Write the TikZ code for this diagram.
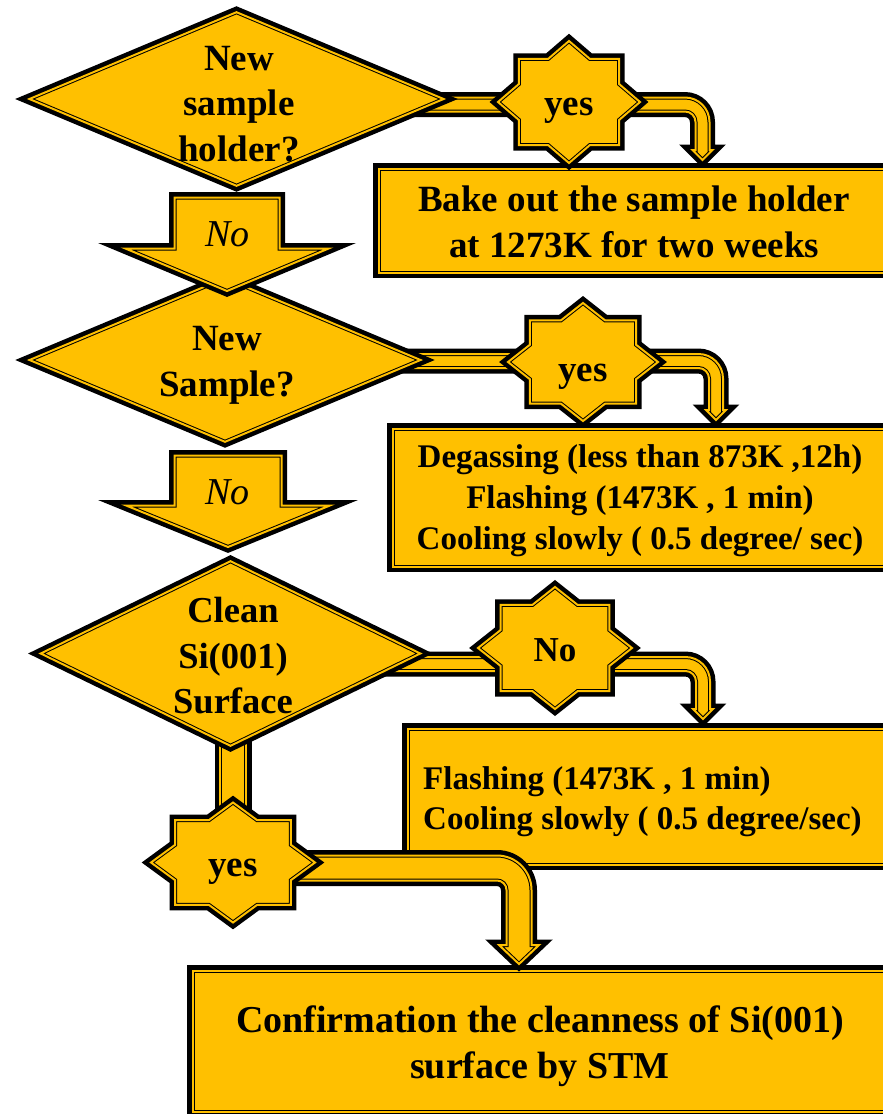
\documentclass[tikz,border=0pt]{standalone}
\usepackage{fontspec}
\setmainfont{Liberation Serif}
\usetikzlibrary{shapes.geometric,calc}
\definecolor{gold}{HTML}{FFC000}
\pgfdeclarelayer{boxes}
\pgfdeclarelayer{bands}
\pgfsetlayers{boxes,bands,main}
\newcommand\fntA{\fontsize{37}{45.5}\selectfont\bfseries}
\newcommand\fntAa{\fontsize{36.5}{45.5}\selectfont\bfseries}
\newcommand\fntB{\fontsize{33}{41}\selectfont\bfseries}
\newcommand\fntC{\fontsize{33}{40}\selectfont\bfseries}
\newcommand\fntD{\fontsize{38}{46}\selectfont\bfseries}
\newcommand\fntE{\fontsize{35}{42}\selectfont\bfseries}
\newcommand\fntI{\fontsize{38}{45}\selectfont\itshape}
\tikzset{
  deco/.style={fill=gold, draw=black, line width=1pt, double=gold,
    double distance=2pt, preaction={draw=black, line width=11pt}},
  box/.style={deco, rectangle, inner sep=0pt},
  dia/.style={deco, diamond, inner sep=0pt},
  txt/.style={inner sep=0pt, align=center},
}
% octagram star: name, x, y, x radius, y radius
\newcommand\octstar[5]{%
  \coordinate (#1) at (#2,#3);
  \draw[deco, shift={(#2,#3)}] ({#4},0)
    \foreach \k in {0,...,6}{ -- ({0.7654*#4*cos(\k*45+22.5)},{0.7654*#5*sin(\k*45+22.5)})
      -- ({#4*cos(\k*45+45)},{#5*sin(\k*45+45)}) }
    -- ({0.7654*#4*cos(337.5)},{0.7654*#5*sin(337.5)}) -- cycle;}
% bent band arrow: start, corner, end node, corner radius, half width,
% head half width, head length, tip offset above end
\newcommand\bentband[8]{%
  \draw[deco] let \p1=(#1), \p2=(#2), \p3=(#3) in
    ({\x1},{\y2+#5}) -- ({\x2-#4},{\y2+#5})
    .. controls ({\x2-#4+0.5523*(#4+#5)},{\y2+#5}) and ({\x2+#5},{\y2-#4+0.5523*(#4+#5)}) .. ({\x2+#5},{\y2-#4})
    -- ({\x2+#5},{\y3+#8+#7}) -- ({\x2+#6},{\y3+#8+#7}) -- ({\x2},{\y3+#8})
    -- ({\x2-#6},{\y3+#8+#7}) -- ({\x2-#5},{\y3+#8+#7})
    -- ({\x2-#5},{\y2-#4})
    .. controls ({\x2-#5},{\y2-#4+0.5523*(#4-#5)}) and ({\x2-#4+0.5523*(#4-#5)},{\y2-#5}) .. ({\x2-#4},{\y2-#5})
    -- ({\x1},{\y2-#5}) -- cycle;}
\begin{document}
\begin{tikzpicture}[x=1pt,y=1pt]
\useasboundingbox (0,0) rectangle (883,-1114);
\clip (0,0) rectangle (883,-1114);

\begin{pgfonlayer}{boxes}
\node[box, minimum width=511pt, minimum height=104pt] (b1) at (634,-220.5) {};
\node[box, minimum width=495pt, minimum height=138pt] (b2) at (640,-497.5) {};
\node[box, minimum width=487.5pt, minimum height=136pt] (b3) at (651.25,-796.5) {};
\node[box, minimum width=695pt, minimum height=141.5pt] (b4) at (540,-1041.25) {};
\end{pgfonlayer}

% decisions
\node[dia, minimum width=414.6pt, minimum height=174pt] (d1) at (236.5,-99) {};
\node[dia, minimum width=391.4pt, minimum height=164pt] (d2) at (225,-360) {};
\node[dia, minimum width=380pt, minimum height=185pt] (d3) at (230.5,-653.5) {};

% "No" block arrows
\draw[deco] (174.5,-197.5) -- (279.5,-197.5) -- (279.5,-248.5) -- (328.6,-248.5)
  -- (227,-291) -- (125.4,-248.5) -- (174.5,-248.5) -- cycle;
\draw[deco] (174.5,-455.5) -- (281.5,-455.5) -- (281.5,-505.5) -- (329.9,-505.5)
  -- (228,-547) -- (126.1,-505.5) -- (174.5,-505.5) -- cycle;

% stars
\octstar{s1}{569}{-102}{71}{61}
\octstar{s2}{583}{-362}{75}{59}
\octstar{s3}{555}{-648}{77}{61}
\octstar{s4}{233}{-862.5}{82}{60}

% band connectors
\coordinate (k1) at (702.5,-104.5);
\coordinate (k2) at (716,-361);
\coordinate (k3) at (703,-664);
\coordinate (k4) at (519,-868);
\begin{pgfonlayer}{bands}
\bentband{$(d1.east)+(-80,0)$}{k1}{b1.north}{17.5}{7}{10}{10}{8}
\bentband{$(d2.east)+(-80,0)$}{k2}{b2.north}{17.5}{7}{10}{10}{8}
\bentband{$(d3.east)+(-80,0)$}{k3}{b3.north}{17.5}{7}{10}{10}{9}
\bentband{s4}{k4}{b4.north}{22}{12.5}{20}{19}{6}
\draw[deco] let \p1=(d3.south), \p2=(s4) in ({\x2-13},{\y1+35}) rectangle ({\x2+13},{\y2+20});
\end{pgfonlayer}

% texts
\node[txt, font=\fntA] (d1t) at (239,-103.75) {New\\sample\\holder?};
\node[txt, font=\fntA] (d2t) at (227,-365.5) {New\\Sample?};
\node[txt, font=\fntAa] (d3t) at (233,-656) {Clean\\Si(001)\\Surface};
\node[txt, font=\fntA] (b1t) at (634,-221.75) {Bake out the sample holder\\at 1273K for two weeks};
\node[txt, font=\fntB] (b2t) at (640,-501) {Degassing (less than 873K ,12h)\\Flashing (1473K , 1 min)\\Cooling slowly ( 0.5 degree/ sec)};
\node[txt, font=\fntC, align=left, anchor=west] (b3t) at (423,-802) {Flashing (1473K , 1 min)\\Cooling slowly ( 0.5 degree/sec)};
\node[txt, font=\fntD] (b4t) at (540,-1045.9) {Confirmation the cleanness of Si(001)\\surface by STM};
\node[txt, font=\fntA, anchor=base] (s1t) at (569,-115) {yes};
\node[txt, font=\fntA, anchor=base] (s2t) at (583,-381) {yes};
\node[txt, font=\fntE, anchor=base] (s3t) at (555,-661) {No};
\node[txt, font=\fntA, anchor=base] (s4t) at (233,-876) {yes};
\node[txt, font=\fntI, anchor=base] (n1t) at (227.5,-246.5) {No};
\node[txt, font=\fntI, anchor=base] (n2t) at (227.5,-504) {No};
\end{tikzpicture}
\end{document}
